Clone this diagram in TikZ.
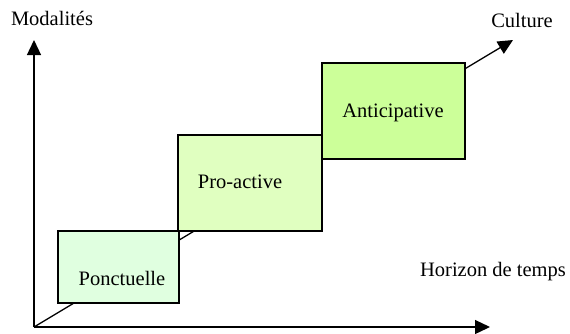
\documentclass[tikz,border=0pt]{standalone}
\usepackage{fontspec}
\setmainfont{Liberation Serif}
\usetikzlibrary{arrows.meta}
\definecolor{pgreen}{HTML}{E0FFE0}
\definecolor{agreen}{HTML}{E0FFC0}
\definecolor{cgreen}{HTML}{CCFF99}
\begin{document}
\begin{tikzpicture}[x=1pt,y=-1pt,
  lbl/.style={font=\fontsize{20.5}{23}\selectfont, inner sep=0pt},
  stage/.style={draw=black, line width=1.3pt},
  axis/.style={line width=1.3pt, -{Triangle[length=15pt,width=14pt]}}]
\useasboundingbox (0,0) rectangle (570,333);
\coordinate (O) at (34,327);
\coordinate (ytip) at (34,40);
\coordinate (xtip) at (490,327);
\coordinate (ctip) at (513,40);
\draw[axis] (O) -- (ytip);
\draw[axis] (O) -- (xtip);
\draw[axis] (O) -- (ctip);
\draw[stage, fill=pgreen] (58,231) rectangle (179,303);
\draw[stage, fill=agreen] (178,135) rectangle (322,231);
\draw[stage, fill=cgreen] (322,63) rectangle (465,159);
\node[lbl] (pon) at (122,278) {Ponctuelle};
\node[lbl] (pro) at (240,182) {Pro-active};
\node[lbl] (ant) at (393,113) {Anticipative};
\node[lbl] (mod) at (52,18) {Modalités};
\node[lbl] (cul) at (522,20) {Culture};
\node[lbl] (hor) at (493,272) {Horizon de temps};
\end{tikzpicture}
\end{document}
